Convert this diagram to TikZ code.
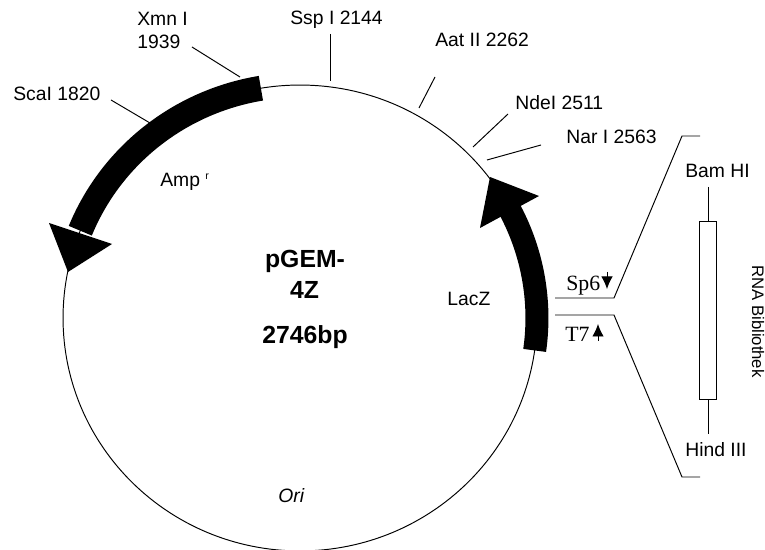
\documentclass[tikz,border=0pt]{standalone}
\usepackage{fontspec}
\setmainfont{Liberation Sans}
\newfontfamily\serifschrift{Liberation Serif}
\usetikzlibrary{arrows.meta, positioning, calc}

\begin{document}
\begin{tikzpicture}[
  x=0.02cm, y=-0.02cm,
  marke/.style={inner sep=0pt, anchor=base west, font=\fontsize{11}{13.6}\selectfont, align=left},
  titel/.style={inner sep=0pt, anchor=base, font=\bfseries\fontsize{14.1}{17.6}\selectfont, align=center},
  promotor/.style={inner sep=0pt, anchor=base west, font=\serifschrift\fontsize{12.4}{15}\selectfont},
  linie/.style={line width=0.55pt},
  band/.style={line width=0.5cm},
  pfeil/.style={line width=0.55pt, -{Latex[length=2.5mm, width=2.3mm]}}
]
  \useasboundingbox (0,0) rectangle (765,550);
  \clip (0,0) rectangle (765,550);

  \coordinate (mitte) at (300,318);
  \draw[linie] (mitte) circle[x radius=4.74cm, y radius=4.66cm];

  \draw[band] (mitte) ++(99.5:4.74cm and 4.66cm)
    arc[start angle=99.5, end angle=158, x radius=4.74cm, y radius=4.66cm];
  \fill (49,223) -- (112,244) -- (68,272) -- cycle;
  \draw[band, line width=0.46cm] (mitte) ++(-8:4.74cm and 4.66cm)
    arc[start angle=-8, end angle=28.5, x radius=4.74cm, y radius=4.66cm];
  \fill (490,177) -- (539,196) -- (480,228) -- cycle;

  \node[marke] (xmn) at (137,49) {Xmn I\\1939};
  \node[marke] (sca) at (13,101) {ScaI 1820};
  \node[marke] (ssp) at (290,25) {Ssp I 2144};
  \node[marke] (aat) at (435,47) {Aat II 2262};
  \node[marke] (nde) at (515,110) {NdeI 2511};
  \node[marke] (nar) at (566,144) {Nar I 2563};
  \node[marke] (amp) at (160,187) {Amp \raisebox{4pt}{\fontsize{6}{7}\selectfont r}};
  \node[marke] (lac) at (447,306) {LacZ};
  \node[marke] (ori) at (278,503) {\itshape Ori};
  \node[marke] (bam) at (685,178) {Bam HI};
  \node[marke] (hind) at (685,457) {Hind III};

  \node[titel] (pgem) at (305,268) {pGEM-};
  \node[titel] (vierz) at (304.5,299) {4Z};
  \node[titel] (groesse) at (305,344) {2746bp};

  \node[promotor] (sp) at (566,291) {Sp6};
  \node[promotor] (tsieben) at (565,342) {T7};

  \node[draw, linie, inner sep=0pt, minimum width=0.34cm, minimum height=3.58cm] (insert) at (707.5,310.5) {};
  \node[inner sep=0pt, rotate=-90, font=\fontsize{9.5}{11}\selectfont] (bib) at (758,321.5) {RNA Bibliothek};

  \coordinate (xmna) at (192,47);
  \coordinate (xmnb) at (240,77);
  \coordinate (scaa) at (111,100);
  \coordinate (scab) at (150,123);
  \coordinate (sspa) at (330,34);
  \coordinate (sspb) at (330,81);
  \coordinate (aata) at (435,77);
  \coordinate (aatb) at (419,108);
  \coordinate (ndea) at (508,114);
  \coordinate (ndeb) at (473,147);
  \coordinate (nara) at (541,145);
  \coordinate (narb) at (487,160);
  \draw[linie] (xmna) -- (xmnb);
  \draw[linie] (scaa) -- (scab);
  \draw[linie] (sspa) -- (sspb);
  \draw[linie] (aata) -- (aatb);
  \draw[linie] (ndea) -- (ndeb);
  \draw[linie] (nara) -- (narb);

  \coordinate (oben) at (708,187);
  \coordinate (unten) at (708,434);
  \draw[linie] (oben) -- (oben |- insert.north);
  \draw[linie] (unten) -- (unten |- insert.south);

  \coordinate (oa) at (555,298);
  \coordinate (ob) at (614,298);
  \coordinate (oc) at (682,136);
  \coordinate (od) at (700,136);
  \coordinate (ua) at (555,315);
  \coordinate (ub) at (614,315);
  \coordinate (uc) at (682,477);
  \coordinate (ud) at (700,477);
  \draw[linie] (oa) -- (ob) -- (oc) -- (od);
  \draw[linie] (ua) -- (ub) -- (uc) -- (ud);

  \coordinate (spa) at (607,272);
  \coordinate (spb) at (607,289);
  \coordinate (ta) at (598,341);
  \coordinate (tb) at (598,324);
  \draw[pfeil] (spa) -- (spb);
  \draw[pfeil] (ta) -- (tb);
\end{tikzpicture}
\end{document}
